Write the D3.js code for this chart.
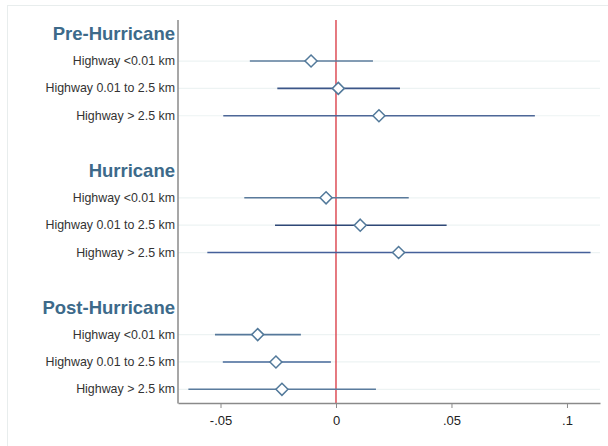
<!DOCTYPE html>
<html>
<head>
<meta charset="utf-8">
<script src="https://cdn.jsdelivr.net/npm/d3@7"></script>
<style>
  html,body{margin:0;padding:0;background:#fff;}
  svg{display:block;font-family:"Liberation Sans",Arial,sans-serif;}
</style>
</head>
<body>
<div id="chart"></div>
<script>
(function(){
  const periods=["Pre-Hurricane","Hurricane","Post-Hurricane"];
  const distances=["Highway <0.01 km","Highway 0.01 to 2.5 km","Highway > 2.5 km"];
  // point estimate, lower and upper CI, per period (rows follow distances)
  const estimates=[[-0.0108,0.0010,0.0186],[-0.0043,0.0105,0.0271],[-0.0339,-0.0260,-0.0234]];
  const lowers=[[-0.0373,-0.0254,-0.0488],[-0.0397,-0.0264,-0.0557],[-0.0524,-0.0490,-0.0639]];
  const uppers=[[0.0160,0.0277,0.0861],[0.0315,0.0479,0.1102],[-0.0152,-0.0022,0.0173]];
  const lineColors=[["#5d7c9c","#3c5688","#4d6797"],["#5a7a9b","#2f4877","#45609a"],["#56789a","#46689a","#5a7b9d"]];
  const xTicks=[-0.05,0,0.05,0.1];
  const xTickLabels=["-.05","0",".05",".1"];

  const W=608,H=446;
  const m={top:20,right:8,bottom:43,left:178};
  const svg=d3.select("#chart").append("svg").attr("width",W).attr("height",H);

  // outer frame
  svg.append("rect").attr("x",7.5).attr("y",5.5).attr("width",W).attr("height",H)
    .attr("fill","none").attr("stroke","#e8eded");

  // slots: header, 3 rows, blank, ...
  const slots=[];
  periods.forEach((p,i)=>{
    slots.push("h"+i);
    distances.forEach((d,j)=>slots.push(i+"-"+j));
    if(i<periods.length-1) slots.push("b"+i);
  });
  const y=d3.scaleBand().domain(slots).range([m.top,H-m.bottom]);
  const yc=k=>y(k)+y.bandwidth()/2;
  const x=d3.scaleLinear().domain([-0.0684,0.1143]).range([m.left,W-m.right]);

  const rows=[];
  periods.forEach((p,i)=>distances.forEach((d,j)=>rows.push({
    key:i+"-"+j,label:d,est:estimates[i][j],lo:lowers[i][j],hi:uppers[i][j],color:lineColors[i][j]
  })));

  // grid lines
  svg.selectAll(".grid").data(rows).join("line")
    .attr("x1",m.left).attr("x2",W-m.right)
    .attr("y1",d=>yc(d.key)).attr("y2",d=>yc(d.key))
    .attr("stroke","#edf3f3").attr("stroke-width",1.2);

  // zero line
  svg.append("line")
    .attr("x1",x(0)).attr("x2",x(0))
    .attr("y1",m.top).attr("y2",H-m.bottom)
    .attr("stroke","#d8323d").attr("stroke-width",1.3);

  // CI lines
  svg.selectAll(".ci").data(rows).join("line")
    .attr("x1",d=>x(d.lo)).attr("x2",d=>x(d.hi))
    .attr("y1",d=>yc(d.key)).attr("y2",d=>yc(d.key))
    .attr("stroke",d=>d.color).attr("stroke-width",1.6);

  // diamonds
  const s=6;
  svg.selectAll(".pt").data(rows).join("path")
    .attr("d",`M0,${-s}L${s},0L0,${s}L${-s},0Z`)
    .attr("transform",d=>`translate(${x(d.est)},${yc(d.key)})`)
    .attr("fill","#fff").attr("stroke","#52799a").attr("stroke-width",1.5);

  // row labels
  svg.selectAll(".lab").data(rows).join("text")
    .attr("x",m.left-3).attr("y",d=>yc(d.key)+4)
    .attr("text-anchor","end").attr("font-size",12.4).attr("fill","#333")
    .text(d=>d.label);

  // period headers
  svg.selectAll(".hdr").data(periods).join("text")
    .attr("x",m.left-3).attr("y",(d,i)=>yc("h"+i)+6.5)
    .attr("text-anchor","end").attr("font-size",18.5).attr("font-weight","bold")
    .attr("fill","#3d6a8a")
    .text(d=>d);

  // axes
  svg.append("line").attr("x1",m.left).attr("x2",m.left)
    .attr("y1",m.top).attr("y2",H-m.bottom+0.5)
    .attr("stroke","#8a8a8a").attr("stroke-width",1.5);
  const ax=svg.append("g").attr("transform",`translate(0,${H-m.bottom})`)
    .call(d3.axisBottom(x).tickValues(xTicks).tickFormat((d,i)=>xTickLabels[i]).tickSize(5).tickPadding(8).tickSizeOuter(0));
  ax.select(".domain").attr("stroke","#8a8a8a").attr("stroke-width",1.5);
  ax.selectAll(".tick line").attr("stroke","#8a8a8a");
  ax.selectAll(".tick text").attr("font-size",13).attr("fill","#222")
    .attr("font-family","'Liberation Sans',Arial,sans-serif");
})();
</script>
</body>
</html>
